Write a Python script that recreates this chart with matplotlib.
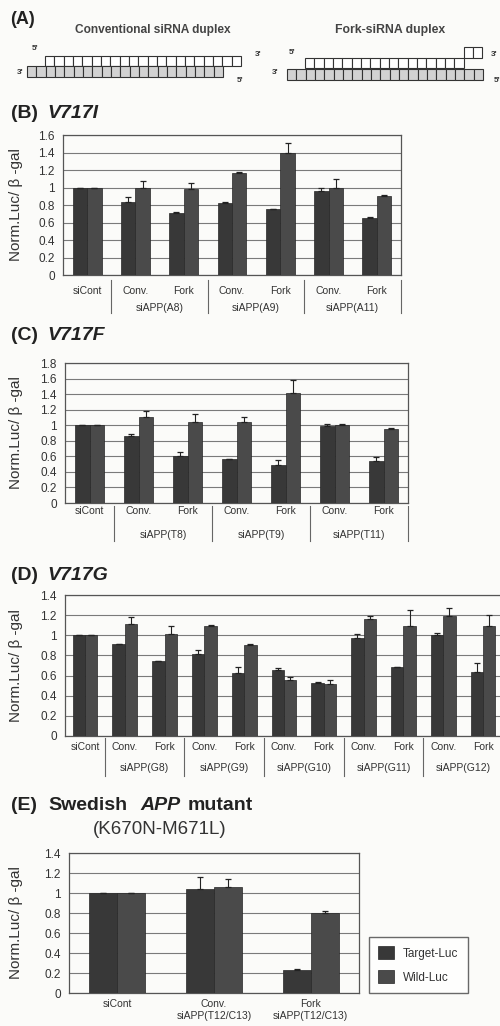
import matplotlib
matplotlib.use("Agg")
import matplotlib.pyplot as plt
import numpy as np
from matplotlib.patches import Rectangle

plt.rcParams['font.family'] = ['Liberation Sans', 'DejaVu Sans']

W, H = 500, 1026
dark = '#383838'
mid = '#4a4a4a'

# ---- data ----
labels_B = ["siCont", "Conv.", "Fork", "Conv.", "Fork", "Conv.", "Fork"]
groups_B = ["siAPP(A8)", "siAPP(A9)", "siAPP(A11)"]
target_B = [1.0, 0.83, 0.71, 0.82, 0.75, 0.96, 0.655]
target_err_B = [0, 0.065, 0.01, 0.02, 0.005, 0.04, 0.01]
wild_B = [1.0, 1.0, 0.98, 1.17, 1.40, 1.0, 0.90]
wild_err_B = [0, 0.08, 0.075, 0.01, 0.11, 0.10, 0.01]

labels_C = ["siCont", "Conv.", "Fork", "Conv.", "Fork", "Conv.", "Fork"]
groups_C = ["siAPP(T8)", "siAPP(T9)", "siAPP(T11)"]
target_C = [1.0, 0.86, 0.60, 0.56, 0.49, 0.99, 0.54]
target_err_C = [0, 0.03, 0.06, 0.01, 0.06, 0.02, 0.05]
wild_C = [1.0, 1.10, 1.04, 1.04, 1.42, 1.0, 0.95]
wild_err_C = [0, 0.08, 0.10, 0.06, 0.16, 0.02, 0.02]

labels_D = ["siCont"] + ["Conv.", "Fork"] * 5
groups_D = ["siAPP(G8)", "siAPP(G9)", "siAPP(G10)", "siAPP(G11)", "siAPP(G12)"]
target_D = [1.0, 0.91, 0.745, 0.81, 0.63, 0.655, 0.53, 0.97, 0.69, 1.0, 0.64]
target_err_D = [0, 0.0, 0.0, 0.045, 0.06, 0.025, 0.01, 0.04, 0.0, 0.02, 0.08]
wild_D = [1.0, 1.11, 1.01, 1.09, 0.90, 0.56, 0.52, 1.16, 1.09, 1.195, 1.09]
wild_err_D = [0, 0.075, 0.08, 0.01, 0.01, 0.03, 0.035, 0.035, 0.16, 0.075, 0.11]

labels_E = ["siCont", "Conv.\nsiAPP(T12/C13)", "Fork\nsiAPP(T12/C13)"]
target_E = [1.0, 1.04, 0.227]
target_err_E = [0, 0.12, 0.013]
wild_E = [1.0, 1.06, 0.80]
wild_err_E = [0, 0.08, 0.023]

n_conv = 21      # nt per strand, conventional duplex
n_fork_top = 17  # paired part of fork sense strand
n_fork_flap = 2  # unpaired 3' end
n_fork_bot = 21


def px_rect(l, t, r, b):
    return [l / W, 1 - b / H, (r - l) / W, (b - t) / H]


fig = plt.figure(figsize=(W / 100, H / 100), dpi=100)
fig.patch.set_facecolor('#fbfbf9')

# overlay in pixel coordinates for text and duplex sketch
ov = fig.add_axes([0, 0, 1, 1])
ov.set_xlim(0, W)
ov.set_ylim(H, 0)
ov.axis('off')

# ---- (A) ----
ov.text(10, 19, "(A)", fontsize=13, fontweight='bold', va='center', color='#222')
ov.text(153, 30, "Conventional siRNA duplex", fontsize=8.6, fontweight='bold',
        ha='center', va='center', color='#444')
ov.text(390, 30, "Fork-siRNA duplex", fontsize=8.8, fontweight='bold',
        ha='center', va='center', color='#444')
bw = 9.33


def strand(x0, y0, n, h=10.5, fc='white'):
    for i in range(n):
        ov.add_patch(Rectangle((x0 + i * bw, y0), bw, h, fc=fc, ec='#333', lw=0.8))


strand(45, 55.5, n_conv)
strand(27, 66, n_conv, fc='#d2d2d2')
strand(305, 57.5, n_fork_top)
strand(305 + n_fork_top * bw, 47, n_fork_flap)
strand(287, 69, n_fork_bot, fc='#d2d2d2')
for x, y, s in [(35, 49, "5'"), (258, 54, "3'"), (20, 72, "3'"), (240, 80, "5'"),
                (292, 53, "5'"), (494, 54, "3'"), (275, 73, "3'"), (497, 81, "5'")]:
    ov.text(x, y, s, fontsize=6, fontweight='bold', ha='center', va='center', color='#333')


def title(y, parts):
    for s, style, x in parts:
        ov.text(x, y, s, fontsize=14, fontweight='bold', fontstyle=style,
                va='center', color='#222')


title(114, [("(B)", 'normal', 11), ("V717I", 'italic', 47)])
title(335, [("(C)", 'normal', 11), ("V717F", 'italic', 47)])
title(575, [("(D)", 'normal', 11), ("V717G", 'italic', 47)])
title(806, [("(E)", 'normal', 11), ("Swedish", 'normal', 48),
            ("APP", 'italic', 140), ("mutant", 'normal', 188)])
ov.text(160, 829, "(K670N-M671L)", fontsize=13.5, ha='center', va='center', color='#333')


def panel(rect, labels, t, te, w, we, ymax, bar_w, ylab_px):
    ax = fig.add_axes(px_rect(*rect))
    ax.set_facecolor('none')
    x = np.arange(len(labels))
    zeros = np.zeros(len(labels))
    ek = dict(ecolor='#222', lw=0.8, capsize=2.2, capthick=0.9)
    ax.bar(x - bar_w / 2, t, bar_w, color=dark, edgecolor='#262626', lw=0.5,
           yerr=[zeros, te], error_kw=ek, zorder=3, label='Target-Luc')
    ax.bar(x + bar_w / 2, w, bar_w, color=mid, edgecolor='#262626', lw=0.5,
           yerr=[zeros, we], error_kw=ek, zorder=3, label='Wild-Luc')
    ax.set_xlim(-0.5, len(labels) - 0.5)
    ax.set_ylim(0, ymax)
    ax.set_yticks(np.arange(0, ymax + 0.01, 0.2))
    ax.set_yticklabels(["0"] + ["%g" % v for v in np.arange(0.2, ymax + 0.01, 0.2)])
    ax.yaxis.grid(True, color='#7a7a7a', lw=0.8, zorder=0)
    ax.set_xticks([])
    ax.tick_params(axis='y', length=0, labelsize=8.5, labelcolor='#333', pad=6)
    for sp in ax.spines.values():
        sp.set_color('#555')
        sp.set_linewidth(0.9)
    ax.set_ylabel("Norm.Luc/ β -gal", fontsize=11, color='#333')
    ax.yaxis.set_label_coords((ylab_px - rect[0]) / (rect[2] - rect[0]), 0.5)
    return ax


def xlabels(ax, labels, groups, dy1, dy2, sep):
    trans = ax.get_xaxis_transform()
    for i, s in enumerate(labels):
        ax.annotate(s, xy=(i, 0), xycoords=('data', 'axes fraction'), xytext=(0, -dy1),
                    textcoords='offset pixels', ha='center', va='center',
                    fontsize=7.5, color='#333')
    for k, g in enumerate(groups):
        ax.annotate(g, xy=(1.5 + 2 * k, 0), xycoords=('data', 'axes fraction'),
                    xytext=(0, -dy2), textcoords='offset pixels', ha='center',
                    va='center', fontsize=7.5, color='#333')
    for k in range(len(groups) + 1):
        xs = 0.5 + 2 * k
        ax.plot([xs, xs], [-sep[0], -sep[1]], color='#666', lw=0.8,
                transform=trans, clip_on=False)


axB = panel((63, 135, 401, 275), labels_B, target_B, target_err_B, wild_B, wild_err_B,
            1.6, 0.3, 23)
xlabels(axB, labels_B, groups_B, 16, 33, (5 / 140, 38 / 140))

axC = panel((65, 363, 408, 503), labels_C, target_C, target_err_C, wild_C, wild_err_C,
            1.8, 0.3, 23)
xlabels(axC, labels_C, groups_C, 8, 32, (3 / 140, 38 / 140))

axD = panel((65, 595, 503, 736), labels_D, target_D, target_err_D, wild_D, wild_err_D,
            1.4, 0.31, 23)
xlabels(axD, labels_D, groups_D, 11, 32, (2 / 141, 40 / 141))

axE = panel((69, 853, 359, 993), labels_E, target_E, target_err_E, wild_E, wild_err_E,
            1.4, 0.29, 23)
for i, s in enumerate(labels_E):
    axE.annotate(s, xy=(i, 0), xycoords=('data', 'axes fraction'), xytext=(0, -6),
                 textcoords='offset pixels', ha='center', va='top',
                 fontsize=7.5, color='#333', linespacing=1.2)

fig.legend(*axE.get_legend_handles_labels(), loc='lower left',
           bbox_to_anchor=(369 / W, 1 - 993 / H), fontsize=8.5, frameon=True,
           fancybox=False, edgecolor='#444', handlelength=1.3, handleheight=1.3,
           labelspacing=0.9, borderpad=0.8, handletextpad=0.8, borderaxespad=0,
           labelcolor='#333')

fig.savefig("out.png", dpi=100, facecolor=fig.get_facecolor())
